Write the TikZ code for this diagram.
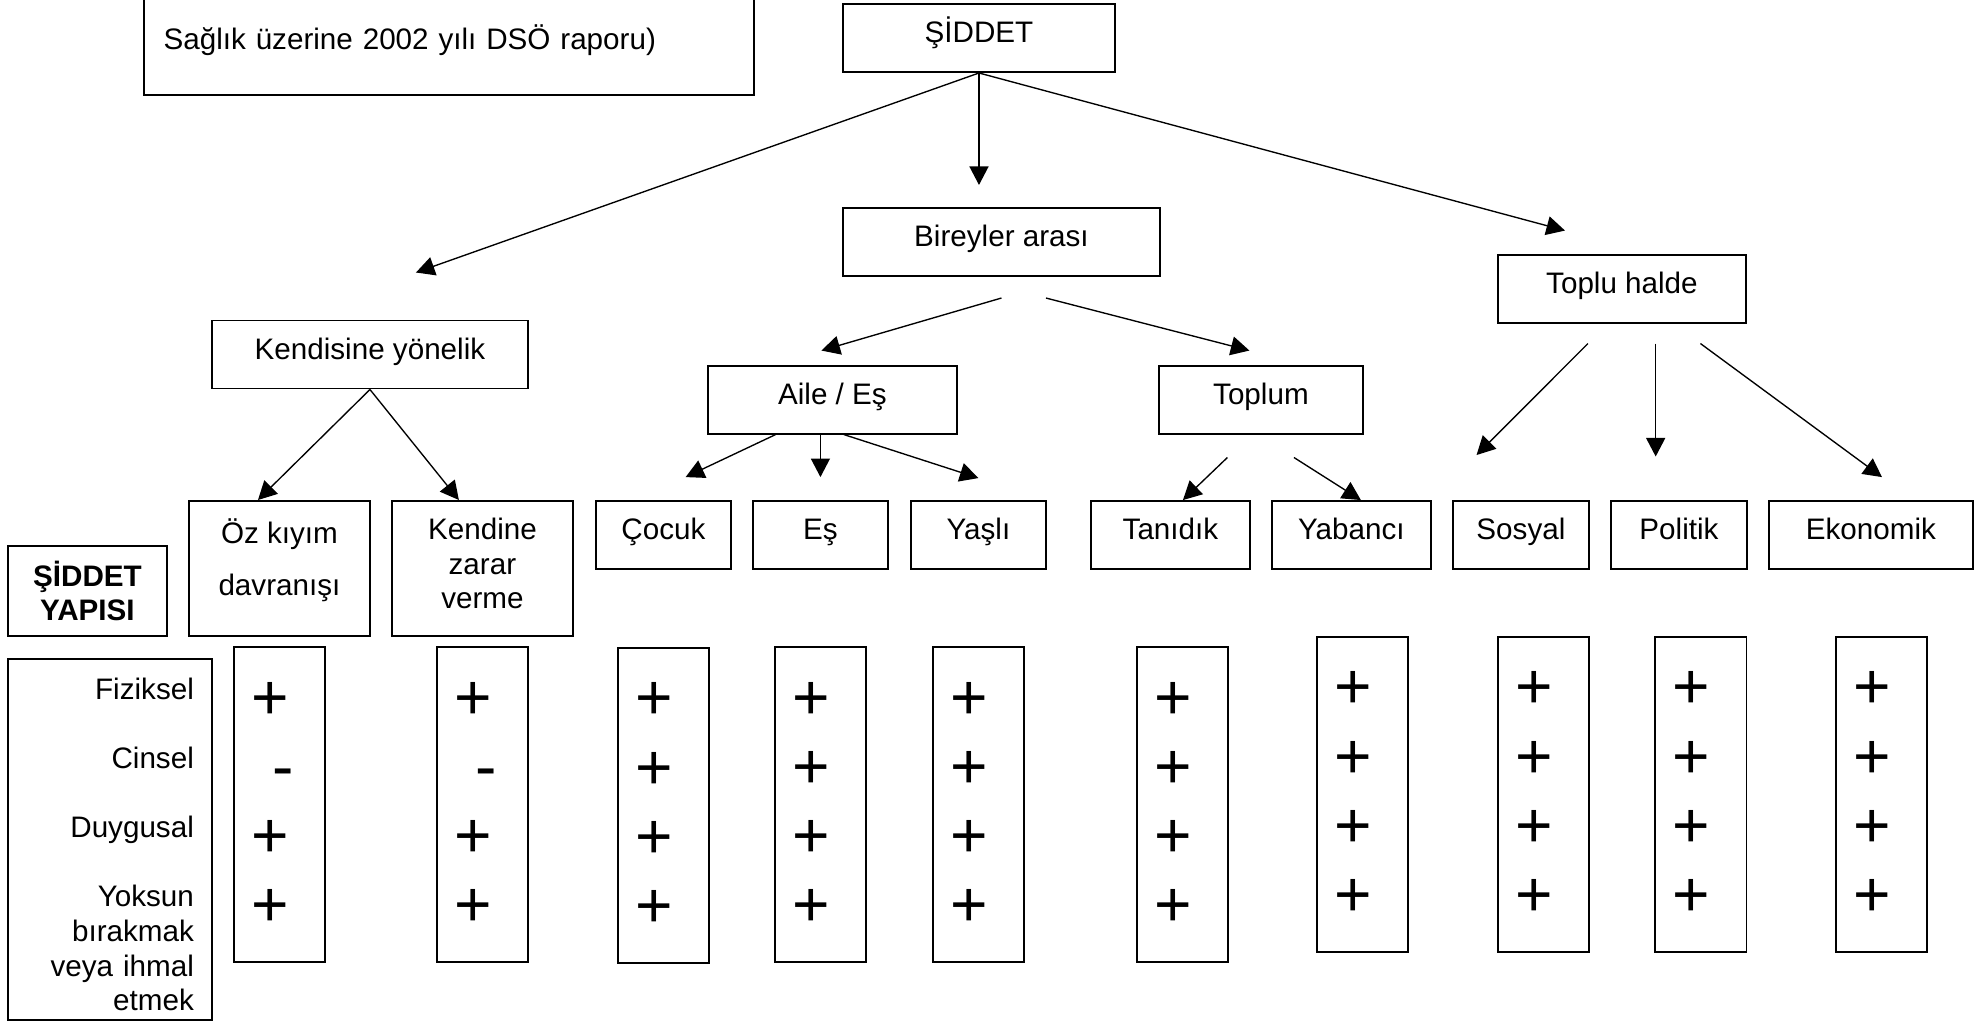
\documentclass[tikz,border=0pt]{standalone}
\usepackage{fontspec}
\setmainfont{Liberation Sans}
\usepackage{tikz}
\usetikzlibrary{arrows.meta,positioning}
\tikzstyle{arrow} = [line width=0.55pt, ->, >={Triangle[length=7.5pt, width=7.7pt]}]
\tikzstyle{typebox} = [rectangle, draw, line width=0.8pt, minimum height=0.968cm, text centered, font=\fontsize{12}{14}\selectfont, text height=10pt, text depth=6.2pt]
\tikzstyle{tallbox} = [rectangle, draw, line width=0.8pt, minimum width=2.576cm, minimum height=1.922cm, align=center, font=\fontsize{12}{14}\selectfont]
\tikzstyle{signbox} = [rectangle, draw, line width=0.8pt, minimum height=4.484cm, text width=22.9pt, inner xsep=7pt, align=left, font=\fontsize{26}{28}\selectfont]

\begin{document}
\begin{tikzpicture}
\useasboundingbox (-13.935,0.541) rectangle (14.234,-14.020);
\clip (-13.935,0.541) rectangle (14.234,-14.020);

% Main levels
\node (siddet) [typebox, minimum width=3.872cm] {ŞİDDET};
\node (note) [rectangle, draw, line width=0.8pt, left of=siddet, node distance=7.544cm, yshift=-0.036cm, minimum height=1.552cm, text width=231.2pt, inner xsep=7.9pt, align=left, font=\fontsize{12}{14}\selectfont] {Sağlık üzerine 2002 yılı DSÖ raporu)};
\node (bireyler) [typebox, below of=siddet, node distance=2.904cm, xshift=0.320cm, minimum width=4.512cm] {Bireyler arası};
\node (toplu) [typebox, right of=bireyler, node distance=8.832cm, yshift=-0.662cm, minimum width=3.530cm] {Toplu halde};
\node (aile) [typebox, below of=bireyler, node distance=2.242cm, xshift=-2.406cm, minimum width=3.544cm] {Aile / Eş};
\node (toplum) [typebox, right of=aile, node distance=6.099cm, minimum width=2.904cm] {Toplum};
\node (kendisine) [typebox, left of=aile, node distance=6.583cm, yshift=0.641cm, minimum width=4.498cm] {Kendisine yönelik};

% Sub types
\node (ozkiyim) [tallbox, below of=kendisine, node distance=3.046cm, xshift=-1.288cm] {Öz kıyım\\[7pt]davranışı\\[-5pt]\mbox{}};
\node (kendine) [tallbox, right of=ozkiyim, node distance=2.889cm] {Kendine\\zarar\\verme\\[-10pt]\mbox{}};
\node (es) [typebox, below of=aile, node distance=1.929cm, xshift=-0.171cm, minimum width=1.922cm] {Eş};
\node (cocuk) [typebox, left of=es, node distance=2.235cm, minimum width=1.922cm] {Çocuk};
\node (yasli) [typebox, right of=es, node distance=2.249cm, minimum width=1.922cm] {Yaşlı};
\node (tanidik) [typebox, below of=toplum, node distance=1.929cm, xshift=-1.288cm, minimum width=2.263cm] {Tanıdık};
\node (yabanci) [typebox, right of=tanidik, node distance=2.576cm, minimum width=2.263cm] {Yabancı};
\node (sosyal) [typebox, right of=yabanci, node distance=2.413cm, minimum width=1.936cm] {Sosyal};
\node (politik) [typebox, right of=sosyal, node distance=2.249cm, minimum width=1.936cm] {Politik};
\node (ekonomik) [typebox, right of=politik, node distance=2.733cm, minimum width=2.904cm] {Ekonomik};

% Nature of violence
\node (yapi) [rectangle, draw, line width=0.8pt, left of=ozkiyim, node distance=2.733cm, yshift=-0.320cm, minimum width=2.263cm, minimum height=1.281cm, align=center, font=\fontsize{12}{14}\selectfont\bfseries] {ŞİDDET\\YAPISI};
\node (liste) [rectangle, draw, line width=0.8pt, below of=yapi, node distance=3.537cm, xshift=0.320cm, minimum height=5.138cm, text width=68pt, inner xsep=7.3pt, align=right, font=\fontsize{12}{14}\selectfont] {\mbox{}\\[-1.3pt]Fiziksel\\[14pt]Cinsel\\[14pt]Duygusal\\[14pt]Yoksun\\bırakmak\\veya ihmal\\etmek};

\node (ozkiyimS) [signbox, below of=ozkiyim, node distance=3.359cm] {+\\\mbox{ -}\\+\\+};
\node (kendineS) [signbox, below of=kendine, node distance=3.359cm] {+\\\mbox{ -}\\+\\+};
\node (cocukS) [signbox, below of=cocuk, node distance=3.843cm] {+\\+\\+\\+};
\node (esS) [signbox, below of=es, node distance=3.836cm] {+\\+\\+\\+};
\node (yasliS) [signbox, below of=yasli, node distance=3.836cm] {+\\+\\+\\+};
\node (tanidikS) [signbox, below of=tanidik, node distance=3.836cm, xshift=0.171cm] {+\\+\\+\\+};
\node (yabanciS) [signbox, below of=yabanci, node distance=3.687cm, xshift=0.157cm] {+\\+\\+\\+};
\node (sosyalS) [signbox, below of=sosyal, node distance=3.687cm, xshift=0.320cm] {+\\+\\+\\+};
\node (politikS) [signbox, below of=politik, node distance=3.687cm, xshift=0.313cm] {+\\+\\+\\+};
\node (ekonomikS) [signbox, below of=ekonomik, node distance=3.687cm, xshift=0.149cm] {+\\+\\+\\+};

% Arrows from the top
\coordinate (kendisineIn) at ([xshift=0.655cm, yshift=0.669cm]kendisine.north);
\coordinate (bireylerIn) at ([yshift=-1.594cm]siddet.south);
\coordinate (topluIn) at ([xshift=-0.811cm, yshift=0.327cm]toplu.north);
\draw[arrow] (siddet.south) -- (kendisineIn);
\draw[arrow] (siddet.south) -- (bireylerIn);
\draw[arrow] (siddet.south) -- (topluIn);

% Bireyler arasi
\coordinate (bireylerL) at ([yshift=-0.299cm]bireyler.south);
\coordinate (bireylerR) at ([xshift=0.633cm, yshift=-0.299cm]bireyler.south);
\coordinate (aileIn) at ([xshift=-0.157cm, yshift=0.199cm]aile.north);
\coordinate (toplumIn) at ([xshift=-0.164cm, yshift=0.199cm]toplum.north);
\draw[arrow] (bireylerL) -- (aileIn);
\draw[arrow] (bireylerR) -- (toplumIn);

% Kendisine yonelik
\coordinate (ozkiyimIn) at ([xshift=-0.306cm]ozkiyim.north);
\coordinate (kendineIn) at ([xshift=-0.335cm]kendine.north);
\draw[arrow] (kendisine.south) -- (ozkiyimIn);
\draw[arrow] (kendisine.south) -- (kendineIn);

% Aile / Es
\coordinate (aileL) at ([xshift=-0.808cm]aile.south);
\coordinate (aileR) at ([xshift=0.161cm]aile.south);
\coordinate (cocukIn) at ([xshift=0.316cm, yshift=0.327cm]cocuk.north);
\coordinate (esIn) at ([yshift=0.327cm]es.north);
\coordinate (yasliIn) at ([yshift=0.313cm]yasli.north);
\draw[arrow] (aileL) -- (cocukIn);
\draw[arrow] (es.north |- aile.south) -- (esIn);
\draw[arrow] (aileR) -- (yasliIn);

% Toplum
\coordinate (toplumL) at ([xshift=-0.477cm, yshift=-0.327cm]toplum.south);
\coordinate (toplumR) at ([xshift=0.470cm, yshift=-0.327cm]toplum.south);
\coordinate (tanidikIn) at ([xshift=0.178cm]tanidik.north);
\coordinate (yabanciIn) at ([xshift=0.135cm]yabanci.north);
\draw[arrow] (toplumL) -- (tanidikIn);
\draw[arrow] (toplumR) -- (yabanciIn);

% Toplu halde
\coordinate (topluL) at ([xshift=-0.484cm, yshift=-0.285cm]toplu.south);
\coordinate (topluM) at ([xshift=0.480cm, yshift=-0.285cm]toplu.south);
\coordinate (topluR) at ([xshift=1.117cm, yshift=-0.285cm]toplu.south);
\coordinate (sosyalIn) at ([xshift=-0.632cm, yshift=0.641cm]sosyal.north);
\coordinate (politikIn) at ([yshift=-1.608cm]topluM);
\coordinate (ekonomikIn) at ([xshift=0.157cm, yshift=0.327cm]ekonomik.north);
\draw[arrow] (topluL) -- (sosyalIn);
\draw[arrow] (topluM) -- (politikIn);
\draw[arrow] (topluR) -- (ekonomikIn);
\end{tikzpicture}
\end{document}
